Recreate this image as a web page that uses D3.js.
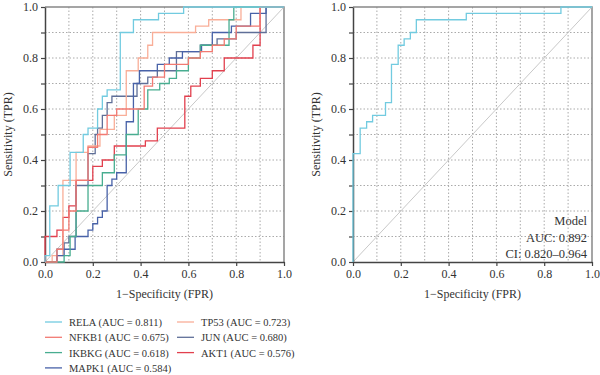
<!DOCTYPE html>
<html>
<head>
<meta charset="utf-8">
<script src="https://cdn.jsdelivr.net/npm/d3@7"></script>
<style>
  body { margin: 0; background: #fff; }
  svg { display: block; font-family: "Liberation Serif", "DejaVu Serif", serif; }
</style>
</head>
<body>
<svg id="chart" width="600" height="375"></svg>
<script>
// ROC points per gene (step-after corners: fpr, tpr)
const genes = ["RELA", "NFKB1", "IKBKG", "MAPK1", "TP53", "JUN", "AKT1"];
const aucs = [0.811, 0.675, 0.618, 0.584, 0.723, 0.680, 0.576];

const relaFpr = [0, 0, 0.02, 0.055, 0.105, 0.16, 0.18, 0.22, 0.24, 0.26, 0.315, 0.37, 0.475, 0.58, 1];
const relaTpr = [0, 0.025, 0.22, 0.30, 0.43, 0.5, 0.525, 0.6, 0.65, 0.675, 0.9, 0.95, 0.975, 1, 1];

const nfkb1Fpr = [0, 0.05, 0.075, 0.1, 0.13, 0.18, 0.22, 0.26, 0.30, 0.415, 0.45, 0.5, 0.6, 0.65, 0.7, 0.75, 0.8, 0.9, 1];
const nfkb1Tpr = [0, 0.05, 0.125, 0.2, 0.32, 0.45, 0.5, 0.575, 0.6, 0.69, 0.725, 0.775, 0.8, 0.825, 0.85, 0.875, 0.925, 1, 1];

const ikbkgFpr = [0, 0.08, 0.105, 0.13, 0.18, 0.24, 0.29, 0.34, 0.39, 0.43, 0.48, 0.52, 0.55, 0.6, 0.65, 0.77, 0.79, 1];
const ikbkgTpr = [0, 0.025, 0.1, 0.2, 0.3, 0.35, 0.42, 0.5, 0.6, 0.675, 0.7, 0.72, 0.75, 0.8, 0.85, 0.95, 1, 1];

const mapk1Fpr = [0, 0.05, 0.08, 0.126, 0.18, 0.2, 0.22, 0.24, 0.26, 0.28, 0.3, 0.34, 0.37, 0.395, 0.47, 0.52, 0.575, 0.655, 0.70, 0.78, 0.86, 0.925, 1];
const mapk1Tpr = [0, 0.025, 0.05, 0.1, 0.125, 0.15, 0.175, 0.2, 0.3, 0.325, 0.35, 0.55, 0.7, 0.75, 0.775, 0.8, 0.825, 0.85, 0.9, 0.925, 0.975, 1, 1];

const tp53Fpr = [0, 0.03, 0.075, 0.13, 0.18, 0.23, 0.29, 0.34, 0.39, 0.43, 0.45, 0.63, 0.685, 0.82, 1];
const tp53Tpr = [0, 0.025, 0.32, 0.43, 0.455, 0.52, 0.575, 0.75, 0.8, 0.85, 0.9, 0.925, 0.95, 1, 1];

const junFpr = [0, 0.05, 0.08, 0.1, 0.13, 0.18, 0.21, 0.22, 0.24, 0.26, 0.28, 0.385, 0.43, 0.47, 0.55, 0.65, 0.72, 0.8, 0.925, 1];
const junTpr = [0, 0.05, 0.075, 0.1, 0.3, 0.425, 0.5, 0.525, 0.575, 0.625, 0.65, 0.7, 0.725, 0.75, 0.825, 0.85, 0.875, 0.9, 1, 1];

const akt1Fpr = [0, 0, 0.05, 0.075, 0.1, 0.13, 0.2, 0.24, 0.29, 0.42, 0.47, 0.585, 0.61, 0.65, 0.7, 0.75, 0.87, 0.9, 1];
const akt1Tpr = [0, 0.1, 0.125, 0.175, 0.22, 0.32, 0.375, 0.4, 0.455, 0.475, 0.525, 0.65, 0.69, 0.72, 0.75, 0.8, 0.85, 1, 1];

// combined model
const modelFpr = [0, 0, 0.03, 0.057, 0.082, 0.136, 0.161, 0.189, 0.214, 0.24, 0.265, 0.474, 0.87, 1];
const modelTpr = [0, 0.425, 0.525, 0.55, 0.575, 0.625, 0.775, 0.85, 0.875, 0.9, 0.95, 0.975, 1, 1];
const modelText = ["Model", "AUC: 0.892", "CI: 0.820\u20130.964"];

const geneFpr = [relaFpr, nfkb1Fpr, ikbkgFpr, mapk1Fpr, tp53Fpr, junFpr, akt1Fpr];
const geneTpr = [relaTpr, nfkb1Tpr, ikbkgTpr, mapk1Tpr, tp53Tpr, junTpr, akt1Tpr];
const geneColors = ["#72cbe0", "#f27a72", "#48ad90", "#4862a8", "#f9ae98", "#5f6f98", "#e2404e"];

const svg = d3.select("#chart");
const plotTop = 7, plotBottom = 262;

function drawPanel(left, right) {
    const x = d3.scaleLinear().domain([0, 1]).range([left, right]);
    const y = d3.scaleLinear().domain([0, 1]).range([plotBottom, plotTop]);
    const g = svg.append("g");

    // dotted grid
    const inner = x.ticks(10).filter(d => d > 0 && d < 1);
    g.selectAll(".gx").data(inner).enter().append("line")
        .attr("x1", d => x(d)).attr("x2", d => x(d)).attr("y1", plotTop).attr("y2", plotBottom)
        .attr("stroke", "#aaa").attr("stroke-width", 1).attr("stroke-dasharray", "1.5,2");
    g.selectAll(".gy").data(inner).enter().append("line")
        .attr("y1", d => y(d)).attr("y2", d => y(d)).attr("x1", left).attr("x2", right)
        .attr("stroke", "#aaa").attr("stroke-width", 1).attr("stroke-dasharray", "1.5,2");

    // frame top + right
    g.append("path")
        .attr("d", `M${left},${plotTop}H${right}V${plotBottom}`)
        .attr("fill", "none").attr("stroke", "#888").attr("stroke-width", 1.5);

    // diagonal
    g.append("line")
        .attr("x1", x(0)).attr("y1", y(0)).attr("x2", x(1)).attr("y2", y(1))
        .attr("stroke", "#c8c8c8").attr("stroke-width", 1);

    const fmt = d3.format(".1f");
    const ax = g.append("g").attr("transform", `translate(0,${plotBottom})`)
        .call(d3.axisBottom(x).ticks(5).tickFormat(fmt).tickSize(4).tickSizeOuter(0));
    const ay = g.append("g").attr("transform", `translate(${left},0)`)
        .call(d3.axisLeft(y).ticks(10).tickSize(4).tickSizeOuter(0)
            .tickFormat(d => Math.round(d * 10) % 2 === 0 ? fmt(d) : ""));
    [ax, ay].forEach(a => {
        a.select(".domain").attr("stroke", "#444").attr("stroke-width", 1.5);
        a.selectAll(".tick line").attr("stroke", "#444").attr("stroke-width", 1.2);
        a.selectAll(".tick text").attr("fill", "#333")
            .style("font-family", "Liberation Serif").style("font-size", "12px");
    });

    g.append("text")
        .attr("x", (left + right) / 2).attr("y", 298)
        .attr("text-anchor", "middle").attr("fill", "#333").style("font-size", "12px")
        .text("1\u2212Specificity (FPR)");
    g.append("text")
        .attr("transform", `translate(${left - 33},${(plotTop + plotBottom) / 2}) rotate(-90)`)
        .attr("text-anchor", "middle").attr("fill", "#333").style("font-size", "12px")
        .text("Sensitivity (TPR)");

    return {g, x, y};
}

const line = (x, y) => d3.line().x(d => x(d[0])).y(d => y(d[1])).curve(d3.curveStepAfter);

// left panel: genes
const p1 = drawPanel(45, 284);
const drawOrder = [6, 5, 4, 3, 2, 1, 0];
drawOrder.forEach(i => {
    const pts = geneFpr[i].map((f, k) => [f, geneTpr[i][k]]);
    p1.g.append("path")
        .attr("d", line(p1.x, p1.y)(pts))
        .attr("fill", "none").attr("stroke", geneColors[i]).attr("stroke-width", 1.3);
});

// right panel: model
const p2 = drawPanel(353, 592);
p2.g.append("path")
    .attr("d", line(p2.x, p2.y)(modelFpr.map((f, k) => [f, modelTpr[k]])))
    .attr("fill", "none").attr("stroke", "#72cbe0").attr("stroke-width", 1.3);
p2.g.selectAll(".ann").data(modelText).enter().append("text")
    .attr("x", 587).attr("y", (d, i) => 225 + i * 16.5)
    .attr("text-anchor", "end").attr("fill", "#333").style("font-size", "12.5px")
    .text(d => d);

// legend
const legend = svg.append("g");
genes.forEach((name, i) => {
    const col = i < 4 ? 0 : 1;
    const row = i < 4 ? i : i - 4;
    const lg = legend.append("g").attr("transform", `translate(${45 + col * 132},${322 + row * 15.3})`);
    lg.append("line").attr("x1", 0).attr("x2", 17).attr("y1", 0).attr("y2", 0)
        .attr("stroke", geneColors[i]).attr("stroke-width", 1.3);
    lg.append("text").attr("x", 24).attr("y", 4).attr("fill", "#333")
        .style("font-size", "10.5px")
        .text(`${name} (AUC = ${aucs[i].toFixed(3)})`);
});
</script>
</body>
</html>
